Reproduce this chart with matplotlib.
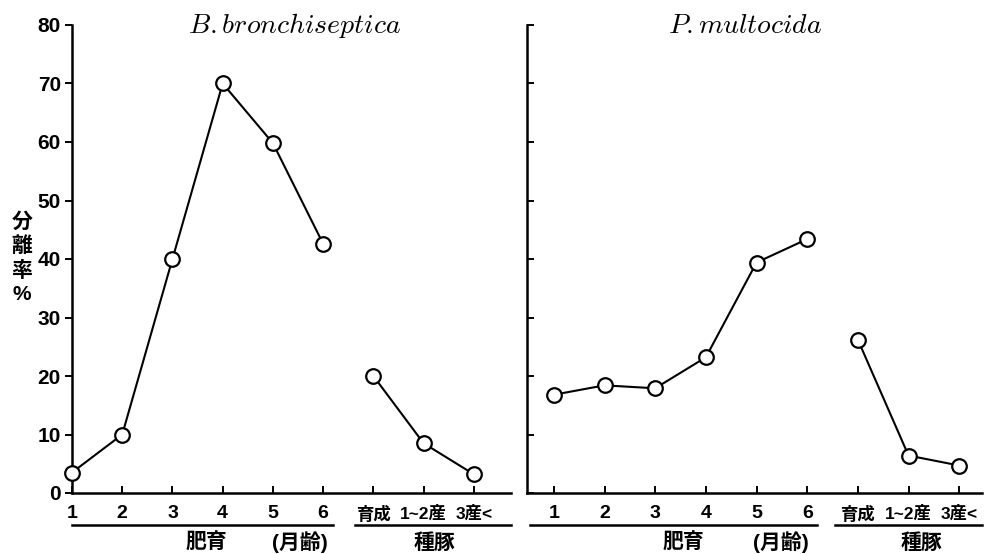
import matplotlib
matplotlib.use("Agg")
import matplotlib.pyplot as plt

plt.rcParams['mathtext.fontset'] = 'cm'

categories = ["1", "2", "3", "4", "5", "6", "育成", "1~2産", "3産<"]
fattening_count = 6
b_bronchiseptica = [3.5, 10.0, 40.0, 70.0, 59.8, 42.6, 20.0, 8.5, 3.2]
p_multocida = [16.8, 18.4, 17.9, 23.2, 39.4, 43.4, 26.2, 6.4, 4.7]
y_ticks = [0, 10, 20, 30, 40, 50, 60, 70, 80]
titles = [r"$B.bronchiseptica$", r"$P.multocida$"]
group_fatten = "肥育"
group_age = "(月齢)"
group_sow = "種豚"
ylabel_chars = ["分", "離", "率", "%"]

JP = ['Liberation Sans', 'Noto Sans CJK JP']

fig = plt.figure(figsize=(9.89, 5.54), dpi=100)
ax1 = fig.add_axes([72/989, 61/554, (511-72)/989, 468/554])
ax2 = fig.add_axes([527/989, 61/554, (982-527)/989, 468/554])

x = list(range(1, len(categories) + 1))
n = fattening_count

def draw(ax, vals, xlim, ydir, title, title_x, layout):
    for seg in (slice(0, n), slice(n, None)):
        ax.plot(x[seg], vals[seg], color='black', lw=1.5, marker='o', ms=10.5,
                mfc='white', mec='black', mew=1.6, clip_on=False, zorder=3)
    ax.set_xlim(*xlim)
    ax.set_ylim(0, 80)
    for s in ('top', 'right'):
        ax.spines[s].set_visible(False)
    for s in ('left', 'bottom'):
        ax.spines[s].set_linewidth(1.8)
    ax.set_xticks(x)
    ax.set_xticklabels(categories)
    ax.tick_params(axis='x', direction='in', length=5, width=1.4, pad=9)
    ax.set_yticks(y_ticks)
    ax.tick_params(axis='y', direction=ydir, length=5, width=1.4, pad=3)
    for lab in ax.get_xticklabels():
        lab.set_fontfamily(JP)
        lab.set_fontweight('bold')
        lab.set_fontsize(14 if lab.get_text().isdigit() else 12.5)
    for lab in ax.get_yticklabels():
        lab.set_fontfamily('Liberation Sans')
        lab.set_fontweight('bold')
        lab.set_fontsize(15)
    ax.text(title_x, 1.0, title, transform=ax.get_xaxis_transform(),
            ha='center', va='center', fontsize=20)
    tr = ax.get_xaxis_transform()
    (u1a, u1b), (u2a, u2b), (gx1, gx2, gx3) = layout
    ax.plot([u1a, u1b], [-0.069, -0.069], transform=tr, color='black', lw=1.8, clip_on=False)
    ax.plot([u2a, u2b], [-0.069, -0.069], transform=tr, color='black', lw=1.8, clip_on=False)
    for gx, txt in ((gx1, group_fatten), (gx2, group_age), (gx3, group_sow)):
        ax.text(gx, -0.119, txt, transform=tr, ha='center', va='baseline',
                fontsize=15, fontweight='bold', family=JP)

draw(ax1, b_bronchiseptica, (1, 9.74), 'out', titles[0], 5.44,
     ((1, 6.19), (6.63, 9.74), (3.67, 5.54, 8.22)))
draw(ax2, p_multocida, (0.47, 9.45), 'in', titles[1], 4.78,
     ((0.53, 6.2), (6.54, 9.45), (3.56, 5.49, 8.25)))
ax2.set_yticklabels([])

fig.text(22/989, 1 - 258/554, "\n".join(ylabel_chars), ha='center', va='center',
         fontsize=15, fontweight='bold', family=JP, linespacing=1.3)

fig.savefig("out.png", dpi=100)
